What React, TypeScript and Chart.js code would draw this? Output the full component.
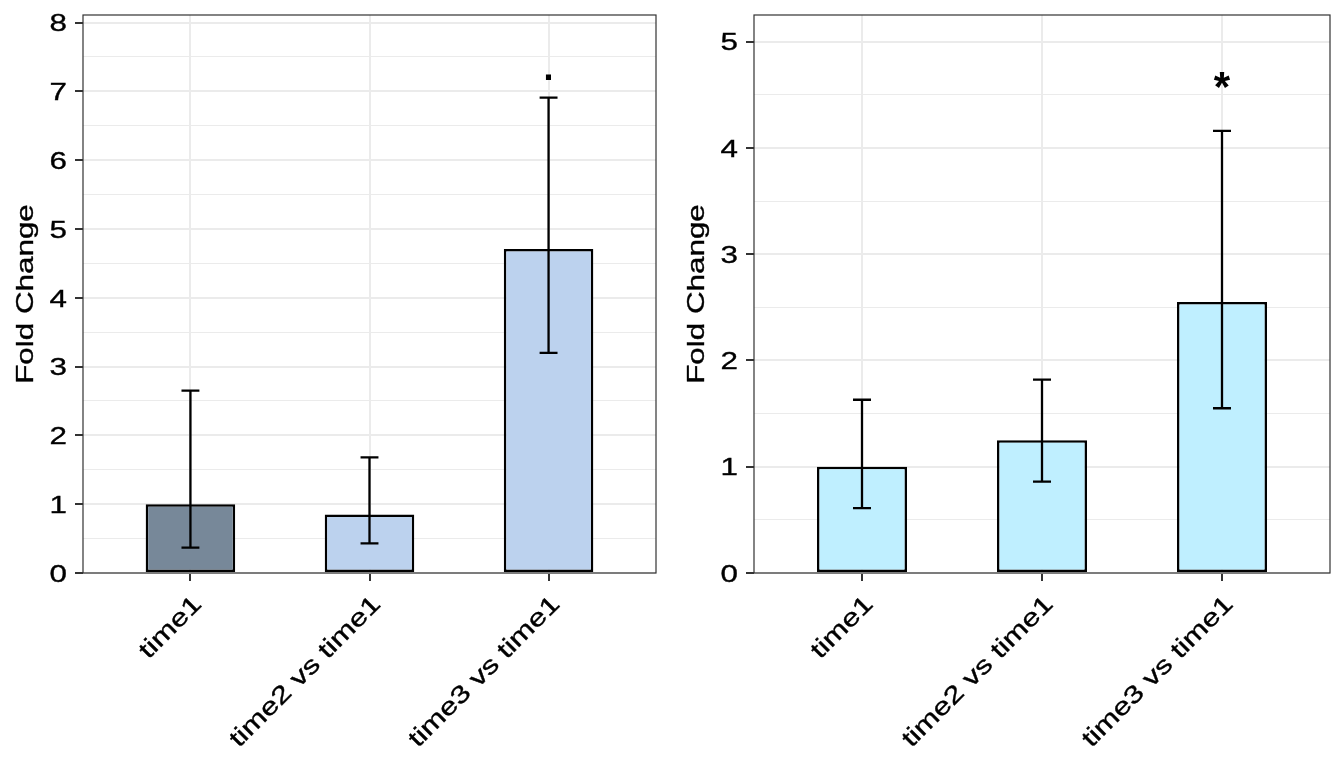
import React, { useEffect, useRef } from "react";
import { Chart, registerables } from "chart.js";

Chart.register(...registerables);

const categories = ["time1", "time2 vs time1", "time3 vs time1"];
const positions = [1, 2, 3];

const leftValues = [1.0, 0.85, 4.71];
const leftErrLow = [0.37, 0.43, 3.2];
const leftErrHigh = [2.65, 1.68, 6.91];
const leftColors = ["#778899", "#BCD2EE", "#BCD2EE"];
const leftSig = ["", "", "."];
const leftSigY = [0, 0, 7.17];
const leftYTicks = [0, 1, 2, 3, 4, 5, 6, 7, 8];
const leftYMax = 8.11;

const rightValues = [1.0, 1.25, 2.55];
const rightErrLow = [0.61, 0.86, 1.55];
const rightErrHigh = [1.63, 1.82, 4.16];
const rightColors = ["#BFEFFF", "#BFEFFF", "#BFEFFF"];
const rightSig = ["", "", "*"];
const rightSigY = [0, 0, 4.44];
const rightYTicks = [0, 1, 2, 3, 4, 5];
const rightYMax = 5.25;

const FONT = "'Liberation Sans', Arial, Helvetica, sans-serif";
const TXT = 24.5;
const STRETCH = 1.28;
const CAP = 0.716;

type PanelProps = {
  values: number[];
  low: number[];
  high: number[];
  colors: string[];
  sig: string[];
  sigY: number[];
  yTicks: number[];
  yMax: number;
  yWidth: number;
  padRight: number;
  sigFont: string;
};

function drawStretched(ctx: any, text: string, x: number, y: number, angle: number, align: string, dy: number) {
  ctx.save();
  ctx.translate(x, y);
  ctx.rotate(angle);
  ctx.scale(STRETCH, 1);
  ctx.textAlign = align;
  ctx.textBaseline = "alphabetic";
  ctx.fillText(text, 0, dy);
  ctx.lineWidth = 0.35;
  ctx.strokeStyle = "#000000";
  ctx.strokeText(text, 0, dy);
  ctx.restore();
}

function Panel(p: PanelProps) {
  const ref = useRef<HTMLCanvasElement | null>(null);
  useEffect(() => {
    const canvas = ref.current;
    if (!canvas) return;
    const extras = {
      id: "extras",
      afterDatasetsDraw(chart: any) {
        const ctx = chart.ctx;
        const xs = chart.scales.x;
        const ys = chart.scales.y;
        ctx.save();
        ctx.strokeStyle = "#000000";
        ctx.lineWidth = 2.3;
        positions.forEach((pos, i) => {
          const x = xs.getPixelForValue(pos);
          const xl = xs.getPixelForValue(pos - 0.05);
          const xr = xs.getPixelForValue(pos + 0.05);
          const yl = ys.getPixelForValue(p.low[i]);
          const yh = ys.getPixelForValue(p.high[i]);
          ctx.beginPath();
          ctx.moveTo(x, yl);
          ctx.lineTo(x, yh);
          ctx.moveTo(xl, yl);
          ctx.lineTo(xr, yl);
          ctx.moveTo(xl, yh);
          ctx.lineTo(xr, yh);
          ctx.stroke();
          if (p.sig[i]) {
            ctx.fillStyle = "#000000";
            ctx.font = p.sigFont;
            ctx.textAlign = "center";
            ctx.textBaseline = "alphabetic";
            ctx.fillText(p.sig[i], x, ys.getPixelForValue(p.sigY[i]));
          }
        });
        const a = chart.chartArea;
        ctx.strokeStyle = "#333333";
        ctx.lineWidth = 1.2;
        ctx.strokeRect(a.left, a.top, a.right - a.left, a.bottom - a.top);
        ctx.restore();
      },
      afterDraw(chart: any) {
        const ctx = chart.ctx;
        const xs = chart.scales.x;
        const ys = chart.scales.y;
        const a = chart.chartArea;
        ctx.save();
        ctx.fillStyle = "#000000";
        ctx.font = `${TXT}px ${FONT}`;
        p.yTicks.forEach((v) => {
          const y = ys.getPixelForValue(v);
          drawStretched(ctx, String(v), a.left - 16, y, 0, "right", (TXT * CAP) / 2);
        });
        positions.forEach((pos, i) => {
          const x = xs.getPixelForValue(pos);
          drawStretched(ctx, categories[i], x, a.bottom + 20, -Math.PI / 4, "right", TXT * CAP);
        });
        drawStretched(ctx, "Fold Change", a.left - 50, (a.top + a.bottom) / 2, -Math.PI / 2, "center", 0);
        ctx.restore();
      },
    };
    const chart = new Chart(canvas, {
      type: "bar",
      data: {
        datasets: [
          {
            data: positions.map((x, i) => ({ x, y: p.values[i] })),
            backgroundColor: p.colors,
            borderColor: "#000000",
            borderWidth: 2.5,
            borderSkipped: false,
            barPercentage: 0.5,
            categoryPercentage: 1,
          },
        ],
      },
      options: {
        responsive: false,
        animation: false,
        events: [],
        layout: { padding: { top: 15, right: p.padRight, left: 0, bottom: 0 } },
        plugins: { legend: { display: false }, tooltip: { enabled: false } },
        scales: {
          x: {
            type: "linear",
            min: 0.4,
            max: 3.6,
            offset: false,
            afterBuildTicks: (s: any) => {
              s.ticks = positions.map((v) => ({ value: v }));
            },
            afterFit: (s: any) => {
              s.height = 195;
              s.paddingLeft = 0;
              s.paddingRight = 0;
            },
            border: { display: false },
            grid: {
              offset: false,
              color: "#EBEBEB",
              lineWidth: 2,
              tickColor: "#333333",
              tickWidth: 2,
              tickLength: 8,
            },
            ticks: { display: false, autoSkip: false },
          },
          y: {
            min: 0,
            max: p.yMax,
            afterBuildTicks: (s: any) => {
              const t: any[] = [];
              p.yTicks.forEach((v, i) => {
                t.push({ value: v });
                if (i < p.yTicks.length - 1) t.push({ value: (v + p.yTicks[i + 1]) / 2 });
              });
              s.ticks = t;
            },
            afterFit: (s: any) => {
              s.width = p.yWidth;
              s.paddingTop = 0;
              s.paddingBottom = 0;
            },
            border: { display: false },
            grid: {
              color: "#EBEBEB",
              lineWidth: (c: any) => (p.yTicks.includes(c.tick?.value) ? 2 : 1),
              tickColor: (c: any) => (p.yTicks.includes(c.tick?.value) ? "#333333" : "rgba(0,0,0,0)"),
              tickWidth: 2,
              tickLength: 8,
            },
            ticks: { display: false },
          },
        },
      },
      plugins: [extras],
    } as any);
    return () => chart.destroy();
  }, []);
  return <canvas ref={ref} width={672} height={768} style={{ display: "block", width: 672, height: 768 }} />;
}

export default function App() {
  return (
    <div style={{ position: "fixed", left: 0, top: 0, width: 1344, height: 768, display: "flex", background: "#ffffff" }}>
      <Panel
        values={leftValues}
        low={leftErrLow}
        high={leftErrHigh}
        colors={leftColors}
        sig={leftSig}
        sigY={leftSigY}
        yTicks={leftYTicks}
        yMax={leftYMax}
        yWidth={83}
        padRight={16}
        sigFont={`bold 36px ${FONT}`}
      />
      <Panel
        values={rightValues}
        low={rightErrLow}
        high={rightErrHigh}
        colors={rightColors}
        sig={rightSig}
        sigY={rightSigY}
        yTicks={rightYTicks}
        yMax={rightYMax}
        yWidth={82}
        padRight={14}
        sigFont={`bold 42px ${FONT}`}
      />
    </div>
  );
}
